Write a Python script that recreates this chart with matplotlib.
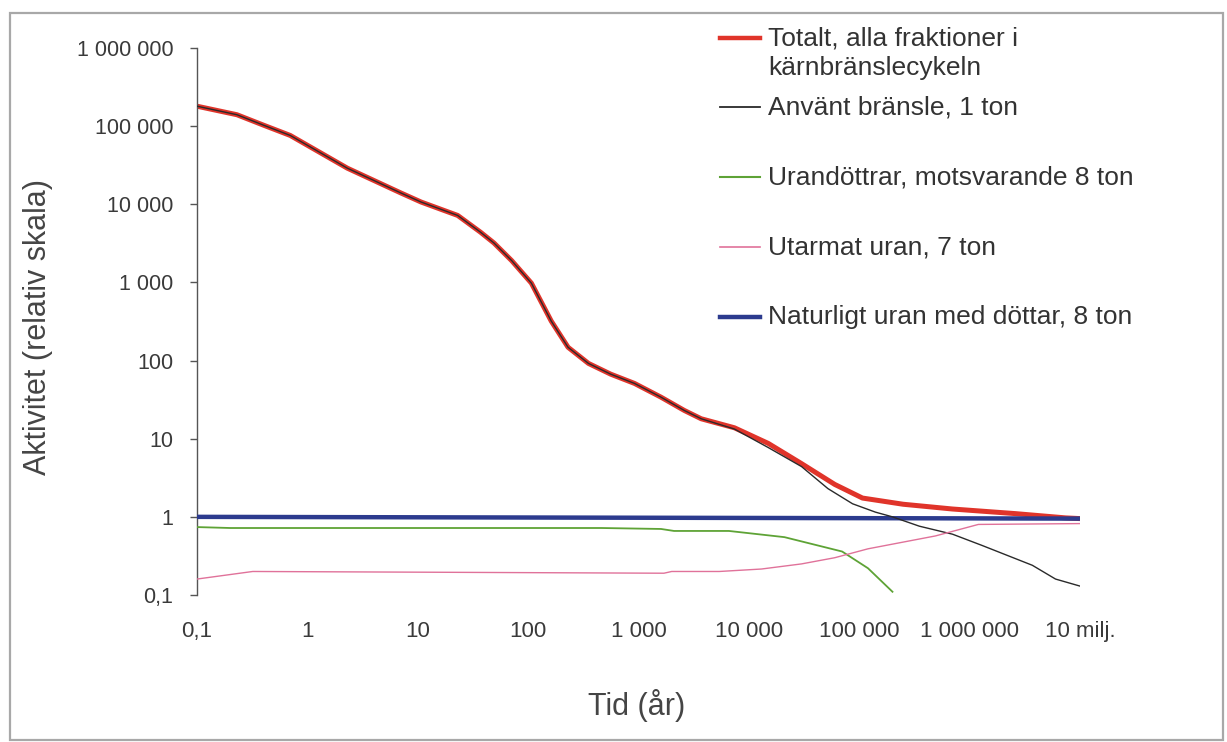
import matplotlib
matplotlib.use("Agg")
import matplotlib.pyplot as plt
from matplotlib.lines import Line2D
from matplotlib.patches import Rectangle

plt.rcParams['font.family'] = ['Liberation Sans', 'DejaVu Sans']

# ---------------- data ----------------
total_t = [0.1, 0.23, 0.4, 0.7, 2.3, 7, 10.7, 23, 37, 49, 71, 107, 162, 230, 352,
           560, 920, 1600, 2600, 3700, 7400, 15000, 30000, 60000, 107000, 250000,
           700000, 2600000, 7400000, 10000000]
total_v = [1.8e5, 1.4e5, 1.03e5, 7.6e4, 2.9e4, 1.4e4, 1.07e4, 7.2e3, 4.4e3, 3.2e3, 1.9e3,
           980, 320, 148, 92, 67, 51, 34, 23, 18, 13.8, 8.7, 4.8, 2.6, 1.74, 1.45,
           1.26, 1.1, 0.97, 0.95]

fuel_t = [0.1, 0.23, 0.4, 0.7, 2.3, 7, 10.7, 23, 37, 49, 71, 107, 162, 230, 352,
          560, 920, 1600, 2600, 3700, 7400, 15000, 30000, 52000, 87000, 140000,
          200000, 350000, 700000, 1300000, 3700000, 6000000, 10000000]
fuel_v = [1.8e5, 1.4e5, 1.03e5, 7.6e4, 2.9e4, 1.4e4, 1.07e4, 7.2e3, 4.4e3, 3.2e3, 1.9e3,
          980, 320, 148, 92, 67, 51, 34, 23, 18, 13.3, 7.7, 4.4, 2.3, 1.47, 1.15,
          1.0, 0.76, 0.6, 0.43, 0.24, 0.16, 0.13]

daughters_t = [0.1, 0.2, 460, 1600, 2100, 6600, 21000, 70000, 120000, 200000]
daughters_v = [0.74, 0.72, 0.72, 0.70, 0.66, 0.66, 0.55, 0.36, 0.22, 0.11]

depleted_t = [0.1, 0.32, 1700, 2000, 5400, 13000, 30000, 60000, 120000, 490000,
              1200000, 10000000]
depleted_v = [0.16, 0.20, 0.19, 0.20, 0.20, 0.215, 0.25, 0.30, 0.39, 0.57, 0.80, 0.82]

natural_t = [0.1, 10000000]
natural_v = [1.0, 0.95]

labels = ["Totalt, alla fraktioner i\nkärnbränslecykeln",
          "Använt bränsle, 1 ton",
          "Urandöttrar, motsvarande 8 ton",
          "Utarmat uran, 7 ton",
          "Naturligt uran med döttar, 8 ton"]

x_ticks = [0.1, 1, 10, 100, 1e3, 1e4, 1e5, 1e6, 1e7]
x_ticklabels = ["0,1", "1", "10", "100", "1 000", "10 000", "100 000", "1 000 000", "10 milj."]
y_ticks = [0.1, 1, 10, 100, 1e3, 1e4, 1e5, 1e6]
y_ticklabels = ["0,1", "1", "10", "100", "1 000", "10 000", "100 000", "1 000 000"]

# ---------------- figure ----------------
W, H = 1227, 742
fig = plt.figure(figsize=(W / 100, H / 100), dpi=100)
fig.patch.set_facecolor("white")

def fx(x):
    return x / W

def fy(y):
    return 1 - y / H

ax = fig.add_axes([fx(197), fy(595), fx(1080) - fx(197), fy(48) - fy(595)])
ax.set_xscale("log")
ax.set_yscale("log")
ax.set_xlim(0.1, 1e7)
ax.set_ylim(0.1, 1e6)

colors = ["#e0342a", "#2a2a2a", "#5ea336", "#e0729a", "#2c3b8e"]
widths = [3.6, 1.0, 1.3, 1.0, 3.2]

ax.plot(total_t, total_v, color=colors[0], lw=widths[0], solid_capstyle="butt", zorder=2)
ax.plot(natural_t, natural_v, color=colors[4], lw=widths[4], solid_capstyle="butt", zorder=3)
ax.plot(fuel_t, fuel_v, color=colors[1], lw=widths[1], zorder=4)
ax.plot(daughters_t, daughters_v, color=colors[2], lw=widths[2], zorder=4)
ax.plot(depleted_t, depleted_v, color=colors[3], lw=widths[3], zorder=4)

for s in ["top", "right", "bottom"]:
    ax.spines[s].set_visible(False)
ax.spines["left"].set_color("#555555")
ax.spines["left"].set_linewidth(1.0)

ax.set_xticks(x_ticks)
ax.set_xticklabels(x_ticklabels)
ax.set_yticks(y_ticks)
ax.set_yticklabels(y_ticklabels)
ax.minorticks_off()
ax.tick_params(axis="x", length=0, pad=19, labelsize=16, labelcolor="#3a3a3a")
ax.tick_params(axis="y", length=5, width=1, color="#555555", pad=12,
               labelsize=15.5, labelcolor="#3a3a3a")

fig.text(fx(38), fy(327), "Aktivitet (relativ skala)", rotation=90, ha="center",
         va="center", fontsize=22, color="#454545")
fig.text(fx(637), fy(706), "Tid (år)", ha="center", va="center", fontsize=22,
         color="#454545")

# ---------------- legend (manual, Excel-like spacing) ----------------
handle_y = [38, 107, 177, 247, 317]
text_y = [53, 107, 177, 247, 317]
handle_w = [3.2, 1.3, 1.5, 1.2, 3.2]
for i, lab in enumerate(labels):
    fig.add_artist(Line2D([fx(720), fx(760)], [fy(handle_y[i]), fy(handle_y[i])],
                          transform=fig.transFigure, color=colors[i], lw=handle_w[i]))
    fig.text(fx(768), fy(text_y[i]), lab, ha="left", va="center", fontsize=19,
             color="#333333", linespacing=1.3)

# outer frame
fig.add_artist(Rectangle((fx(10), fy(740)), fx(1223) - fx(10), fy(13) - fy(740),
                         transform=fig.transFigure, fill=False, edgecolor="#a8a8a8",
                         lw=1.6))

fig.savefig("out.png", dpi=100, facecolor="white")
